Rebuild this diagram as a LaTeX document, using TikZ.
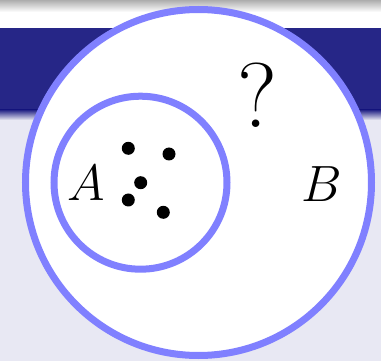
\RequirePackage{fix-cm}
\documentclass[tikz,border=0pt]{standalone}
\definecolor{bandblue}{RGB}{38,38,135}
\definecolor{bglav}{RGB}{232,232,243}
\definecolor{ringblue}{RGB}{128,128,255}
\tikzset{
  ring/.style={circle, draw=ringblue, line width=7pt, fill=white, inner sep=0pt},
  dotnode/.style={circle, fill=black, inner sep=0pt, minimum size=13pt},
  letter/.style={inner sep=0pt, font=\fontsize{51}{51}\selectfont},
  qmark/.style={inner sep=0pt, font=\fontsize{92}{92}\selectfont}
}
\begin{document}
\begin{tikzpicture}[x=1pt,y=-1pt]
\useasboundingbox (0,0) rectangle (381,361);
\fill[bglav] (0,0) rectangle (381,361);
\shade[top color=black!32, bottom color=white] (0,0) rectangle (381,12);
\fill[white] (0,12) rectangle (381,28);
\fill[bandblue] (0,28) rectangle (381,110);
\shade[top color=bandblue, bottom color=bglav] (0,110) rectangle (381,120);
\node[ring, minimum size=346pt] (setB) at (198.5,182.5) {};
\node[ring, minimum size=173pt] (setA) at (140.5,182.7) {};
\node[dotnode] (d1) at (128.3,148.3) {};
\node[dotnode] (d2) at (169,154) {};
\node[dotnode] (d3) at (140.7,182.7) {};
\node[dotnode] (d4) at (128.3,200) {};
\node[dotnode] (d5) at (163.3,212.3) {};
\node[letter] (labA) at (86,183.5) {$A$};
\node[letter] (labB) at (322,184) {$B$};
\node[qmark] (q) at (257.5,95) {?};
\end{tikzpicture}
\end{document}
